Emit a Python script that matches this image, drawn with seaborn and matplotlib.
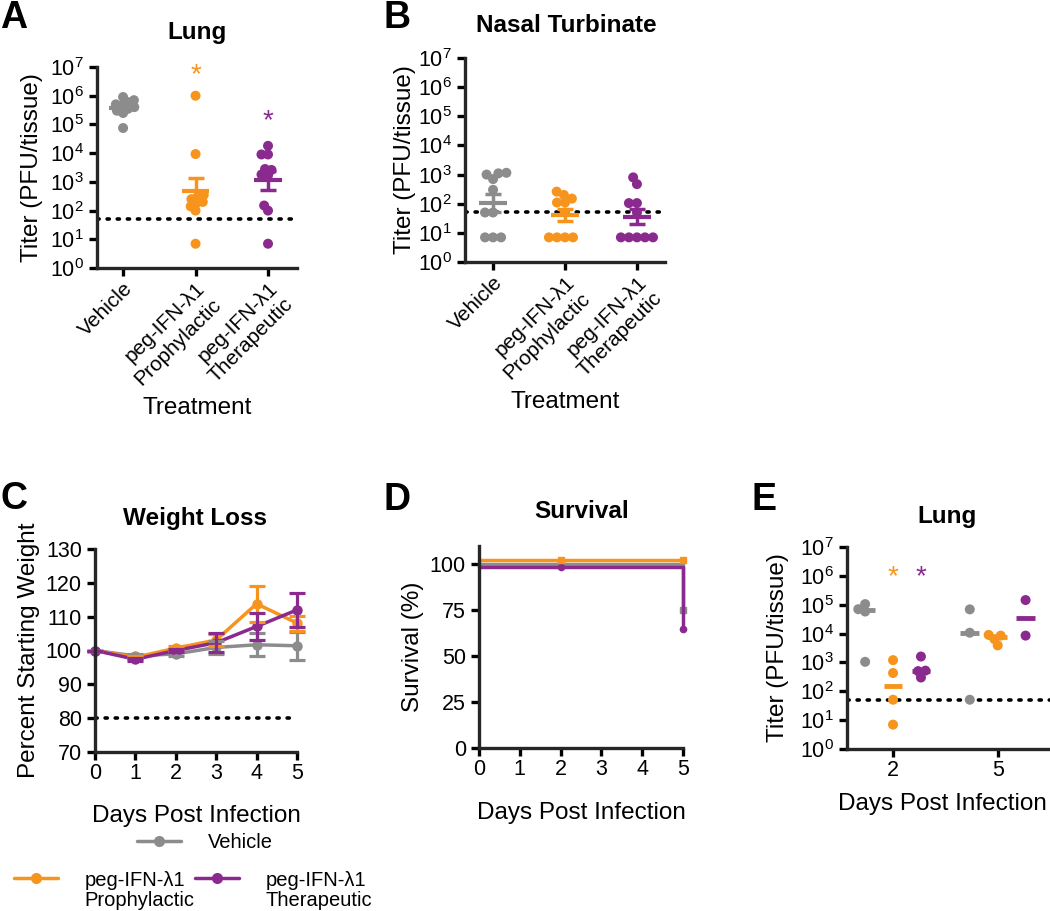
import numpy as np
import pandas as pd
import matplotlib
matplotlib.use("Agg")
import matplotlib.pyplot as plt
import matplotlib.ticker as mticker
import matplotlib.transforms as mtransforms
from matplotlib.lines import Line2D
import seaborn as sns

# ---- data ----
groups = ["Vehicle", "peg-IFN-λ1\nProphylactic", "peg-IFN-λ1\nTherapeutic"]
colors = ["#8c8c8c", "#f7941d", "#8b2a8e"]
lod = 50  # limit of detection (PFU/tissue)

# A: lung titer
lung_vehicle = [9e5, 7e5, 6e5, 5e5, 4.5e5, 4e5, 3.5e5, 3e5, 2.5e5, 7.5e4]
lung_proph = [1e6, 9.3e3, 350, 300, 250, 200, 180, 140, 100, 7]
lung_ther = [1.8e4, 9e3, 9e3, 2.8e3, 2.6e3, 1.8e3, 1.7e3, 150, 100, 7]

# B: nasal turbinate titer
nasal_vehicle = [1100, 1000, 1150, 700, 300, 50, 50, 7, 7, 7]
nasal_proph = [260, 200, 150, 110, 110, 50, 7, 7, 7, 7]
nasal_ther = [800, 470, 105, 105, 50, 7, 7, 7, 7, 7]

# C: weight (% of starting), mean and SEM
days = [0, 1, 2, 3, 4, 5]
wt_vehicle = [100, 98.4, 99.0, 100.9, 101.7, 101.4]
wt_vehicle_sem = [0, 0.5, 0.5, 1.9, 3.4, 4.2]
wt_proph = [100, 98.0, 100.7, 103.1, 113.8, 108.1]
wt_proph_sem = [0, 0.5, 0.5, 1.8, 5.3, 2.2]
wt_ther = [100, 97.4, 100.0, 102.3, 107.1, 112.0]
wt_ther_sem = [0, 0.5, 0.5, 2.8, 4.0, 5.0]

# D: survival (%)
surv_days = [0, 2, 5]
surv_vehicle = [100, 100, 75]
surv_proph = [100, 100, 100]
surv_ther = [100, 100, 66.7]

# E: lung titer by day
e_days = ["2", "5"]
e_d2_vehicle = [1.05e5, 5.8e4, 7e4, 1.05e3]
e_d2_proph = [1.2e3, 430, 51, 7]
e_d2_ther = [1.6e3, 520, 300, 500]
e_d5_vehicle = [6.9e4, 1.07e4, 51]
e_d5_proph = [9e3, 8.5e3, 6.4e3, 3.9e3]
e_d5_ther = [1.45e5, 8.5e3]

# ---- style ----
sns.set_theme(style="ticks")
plt.rcParams["font.family"] = ["Liberation Sans", "DejaVu Sans"]
plt.rcParams["mathtext.fontset"] = "custom"
plt.rcParams["mathtext.rm"] = "Liberation Sans"
plt.rcParams["mathtext.it"] = "Liberation Sans:italic"
plt.rcParams["mathtext.bf"] = "Liberation Sans:bold"
plt.rcParams["axes.linewidth"] = 2.4
plt.rcParams["xtick.major.width"] = 2.4
plt.rcParams["ytick.major.width"] = 2.4
plt.rcParams["xtick.major.size"] = 6
plt.rcParams["ytick.major.size"] = 6
plt.rcParams["xtick.major.pad"] = 2
plt.rcParams["xtick.labelsize"] = 15.5
plt.rcParams["ytick.labelsize"] = 15.5
plt.rcParams["axes.labelsize"] = 17.5
for k in ["text.color", "axes.labelcolor", "xtick.color", "ytick.color"]:
    plt.rcParams[k] = "black"

W, H = 1050, 911
fig = plt.figure(figsize=(W / 100, H / 100), dpi=100)
swarms = []  # swarm collections, enlarged after layout


def px_axes(left, top, right, bottom):
    return fig.add_axes([left / W, 1 - bottom / H, (right - left) / W, (bottom - top) / H])


def log_axis(ax):
    ax.set_yscale("log")
    ax.set_ylim(1, 1e7)
    ax.yaxis.set_major_locator(mticker.FixedLocator([10.0 ** k for k in range(8)]))
    ax.yaxis.set_major_formatter(mticker.LogFormatterMathtext())
    ax.yaxis.set_minor_locator(mticker.NullLocator())


dotted = dict(color="black", lw=2.6, linestyle=(0, (0.6, 2.2)), dash_capstyle="round")


def titer_panel(ax, series, xlim, swarm_size, ylabelpad):
    log_axis(ax)
    df = pd.DataFrame({
        "group": np.repeat(groups, [len(s) for s in series]),
        "titer": np.concatenate(series),
    })
    n0 = len(ax.collections)
    sns.swarmplot(data=df, x="group", y="titer", hue="group", order=groups,
                  hue_order=groups, palette=colors, size=swarm_size, legend=False,
                  ax=ax, zorder=3, linewidth=0)
    swarms.extend(ax.collections[n0:])
    for i, s in enumerate(series):
        lg = np.log10(s)
        m = lg.mean()
        sem = lg.std(ddof=1) / np.sqrt(len(lg))
        ax.hlines(10 ** m, i - 0.19, i + 0.19, color=colors[i], lw=3, zorder=2)
        ax.errorbar(i, 10 ** m, yerr=[[10 ** m - 10 ** (m - sem)], [10 ** (m + sem) - 10 ** m]],
                    color=colors[i], lw=2.5, capsize=6, capthick=2.5, zorder=2)
    ax.axhline(lod, **dotted, zorder=1)
    ax.set_xlim(*xlim)
    ax.set_xlabel("Treatment", labelpad=6)
    ax.set_ylabel("Titer (PFU/tissue)", labelpad=ylabelpad)
    plt.setp(ax.get_xticklabels(), rotation=45, ha="right", va="top",
             rotation_mode="anchor", fontsize=15)
    sns.despine(ax=ax)


# ---- A ----
axA = px_axes(97, 67, 297, 268)
titer_panel(axA, [lung_vehicle, lung_proph, lung_ther], (-0.36, 2.4), 4.5, 5)
axA.text(1, 10 ** 6.72, "*", color=colors[1], fontsize=20, ha="center", va="center")
axA.text(2, 10 ** 5.1, "*", color=colors[2], fontsize=20, ha="center", va="center")

# ---- B ----
axB = px_axes(465, 58, 665, 262)
titer_panel(axB, [nasal_vehicle, nasal_proph, nasal_ther], (-0.39, 2.39), 5.5, 1)

# ---- C ----
axC = px_axes(95, 549, 297, 752)
wt_means = [wt_vehicle, wt_proph, wt_ther]
wt_sems = [wt_vehicle_sem, wt_proph_sem, wt_ther_sem]
dfC = pd.DataFrame({
    "day": np.tile(days, 3),
    "weight": np.concatenate(wt_means),
    "group": np.repeat(groups, len(days)),
})
sns.lineplot(data=dfC, x="day", y="weight", hue="group", hue_order=groups,
             palette=colors, marker="o", markersize=7.5, markeredgewidth=0,
             linewidth=2.5, legend=False, ax=axC, clip_on=False)
for i in range(3):
    axC.errorbar(days, wt_means[i], yerr=wt_sems[i], fmt="none", ecolor=colors[i],
                 elinewidth=2.3, capsize=6, capthick=2.3, clip_on=False)
axC.plot([0, 5], [80, 80], **dotted)
axC.set_xlim(0, 5)
axC.set_ylim(70, 130)
axC.set_xticks(days)
axC.set_yticks(range(70, 131, 10))
axC.set_xlabel("Days Post Infection", labelpad=15)
axC.set_ylabel("Percent Starting Weight", labelpad=4)
sns.despine(ax=axC)

# ---- D ----
axD = px_axes(479, 546, 683, 748)
surv = [surv_vehicle, surv_proph, surv_ther]
shift = [0, 4, -3]  # pixels, separates overlapping curves as in the original
markers = ["s", "s", "o"]
for i in [0, 2, 1]:
    tr = mtransforms.offset_copy(axD.transData, fig=fig, x=0, y=shift[i], units="dots")
    axD.plot(surv_days, surv[i], drawstyle="steps-post", color=colors[i], lw=2.5,
             marker=markers[i], markersize=4.5, markevery=[1, 2], transform=tr,
             clip_on=False)
axD.set_xlim(0, 5)
axD.set_ylim(0, 110)
axD.set_xticks(range(6))
axD.set_yticks([0, 25, 50, 75, 100])
axD.set_xlabel("Days Post Infection", labelpad=16)
axD.set_ylabel("Survival (%)", labelpad=4)
sns.despine(ax=axD)

# ---- E ----
axE = px_axes(847, 547, 1050, 749)
log_axis(axE)
e_series = [[e_d2_vehicle, e_d2_proph, e_d2_ther], [e_d5_vehicle, e_d5_proph, e_d5_ther]]
rows = []
for d, day_series in zip(e_days, e_series):
    for g, vals in zip(groups, day_series):
        for v in vals:
            rows.append((d, g, v))
dfE = pd.DataFrame(rows, columns=["day", "group", "titer"])
n0 = len(axE.collections)
sns.swarmplot(data=dfE, x="day", y="titer", hue="group", order=e_days,
              hue_order=groups, palette=colors, dodge=True, size=5,
              legend=False, ax=axE, zorder=3, linewidth=0)
swarms.extend(axE.collections[n0:])
offs = [-0.267, 0, 0.267]
for di, day_series in enumerate(e_series):
    for gi, vals in enumerate(day_series):
        med = 10 ** np.median(np.log10(vals))
        x0 = di + offs[gi]
        axE.hlines(med, x0 - 0.09, x0 + 0.09, color=colors[gi], lw=3.5, zorder=2)
axE.axhline(lod, **dotted, zorder=1)
axE.text(offs[1], 10 ** 5.94, "*", color=colors[1], fontsize=20, ha="center", va="center")
axE.text(offs[2], 10 ** 5.94, "*", color=colors[2], fontsize=20, ha="center", va="center")
axE.set_xlim(-0.44, 1.5)
axE.set_xlabel("Days Post Infection")
axE.xaxis.set_label_coords(0.468, -0.22)
axE.set_ylabel("Titer (PFU/tissue)", labelpad=8)
sns.despine(ax=axE)

# ---- titles and panel letters ----
titles = [("Lung", 197, 33), ("Nasal Turbinate", 566, 25), ("Weight Loss", 195, 518),
          ("Survival", 582, 512), ("Lung", 947, 517)]
for t, x, y in titles:
    fig.text(x / W, 1 - y / H, t, fontsize=17.5, fontweight="bold", ha="center", va="center")
letters = [("A", 0, 18), ("B", 384, 18), ("C", 0, 499), ("D", 384, 500), ("E", 752, 500)]
for t, x, y in letters:
    fig.text(x / W, 1 - y / H, t, fontsize=27, fontweight="bold", ha="left", va="center")


# ---- legend ----
def handle(c):
    return Line2D([], [], color=c, lw=2.5, marker="o", markersize=8, markeredgewidth=0)


leg_kw = dict(frameon=False, fontsize=14.5, handlelength=2.2, handletextpad=1.3,
              borderpad=0, borderaxespad=0, loc="center left")
fig.legend(handles=[handle(colors[0])], labels=["Vehicle"],
           bbox_to_anchor=(137 / W, 1 - 843 / H), **leg_kw)
leg_p = fig.legend(handles=[handle(colors[1])], labels=[groups[1].split("\n")[0]],
                   bbox_to_anchor=(14 / W, 1 - 880 / H), **leg_kw)
leg_t = fig.legend(handles=[handle(colors[2])], labels=[groups[2].split("\n")[0]],
                   bbox_to_anchor=(195 / W, 1 - 880 / H), **leg_kw)

# first swarm layout with small points, then draw them at full size without re-packing
fig.canvas.draw()
for coll in swarms:
    if "draw" in coll.__dict__:
        del coll.draw
    coll.set_sizes([7.2 ** 2])

# second line of the two-line legend labels
for leg, label in [(leg_p, groups[1]), (leg_t, groups[2])]:
    bb = leg.get_texts()[0].get_window_extent()
    fig.text(bb.x0 / W, (bb.y0 - 20) / H, label.split("\n")[1], fontsize=14.5,
             ha="left", va="bottom")

fig.savefig("out.png", dpi=100)
